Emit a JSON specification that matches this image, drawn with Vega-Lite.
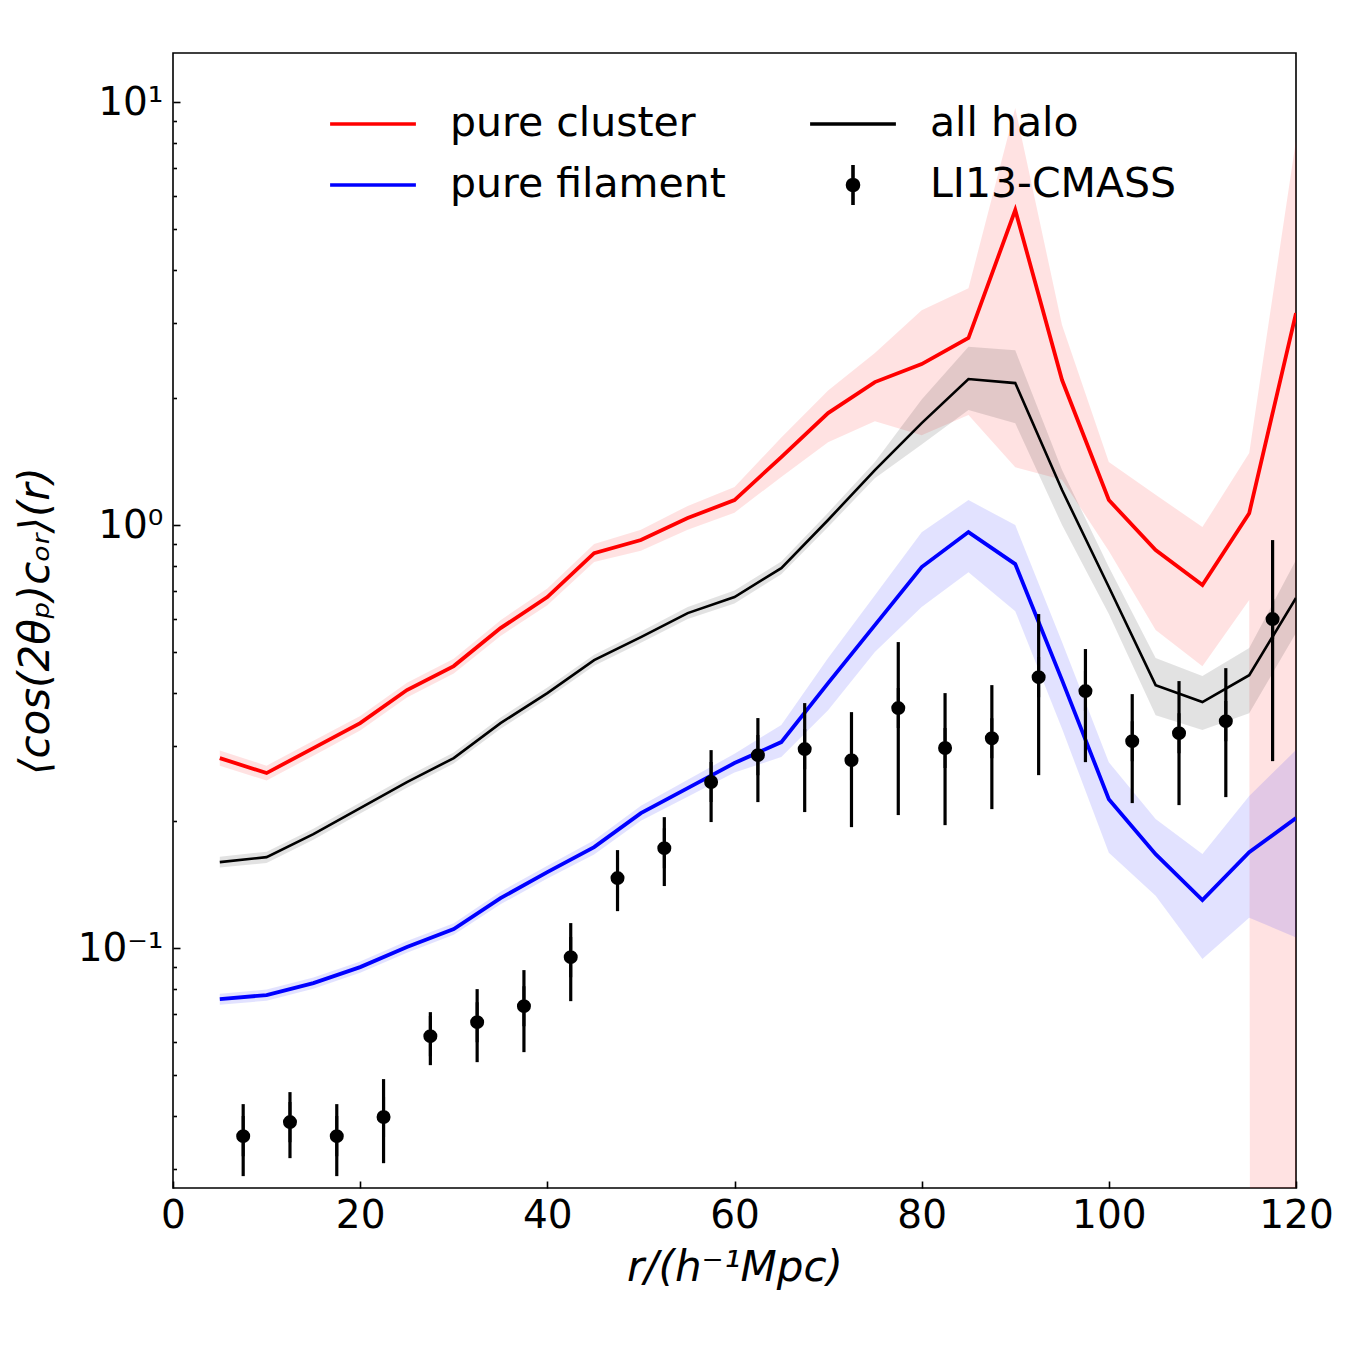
{
  "$schema": "https://vega.github.io/schema/vega-lite/v6.json",
  "width": 1123,
  "height": 1135,
  "autosize": {"type": "none"},
  "padding": {"left": 173, "top": 53, "right": 54, "bottom": 162},
  "background": "white",
  "config": {
    "view": {"stroke": "#000000", "strokeWidth": 1.6},
    "font": "DejaVu Sans",
    "axis": {"domain": false, "grid": false, "labelFont": "DejaVu Sans", "titleFont": "DejaVu Sans", "labelColor": "#000000", "titleColor": "#000000", "tickColor": "#000000", "tickWidth": 1.6, "labelFontSize": 39, "titleFontSize": 42, "titleFontWeight": "normal", "titleFontStyle": "italic"}
  },
  "datasets": {
    "curves": [
      {"x": 5, "series": "pure cluster", "y": 0.2813, "lo": 0.270, "hi": 0.293},
      {"x": 10, "series": "pure cluster", "y": 0.2593, "lo": 0.249, "hi": 0.270},
      {"x": 15, "series": "pure cluster", "y": 0.2971, "lo": 0.285, "hi": 0.309},
      {"x": 20, "series": "pure cluster", "y": 0.3403, "lo": 0.327, "hi": 0.354},
      {"x": 25, "series": "pure cluster", "y": 0.4074, "lo": 0.391, "hi": 0.424},
      {"x": 30, "series": "pure cluster", "y": 0.4642, "lo": 0.446, "hi": 0.483},
      {"x": 35, "series": "pure cluster", "y": 0.5707, "lo": 0.547, "hi": 0.596},
      {"x": 40, "series": "pure cluster", "y": 0.6760, "lo": 0.646, "hi": 0.708},
      {"x": 45, "series": "pure cluster", "y": 0.8586, "lo": 0.818, "hi": 0.902},
      {"x": 50, "series": "pure cluster", "y": 0.9216, "lo": 0.870, "hi": 0.975},
      {"x": 55, "series": "pure cluster", "y": 1.039, "lo": 0.975, "hi": 1.11},
      {"x": 60, "series": "pure cluster", "y": 1.146, "lo": 1.07, "hi": 1.23},
      {"x": 65, "series": "pure cluster", "y": 1.448, "lo": 1.30, "hi": 1.61},
      {"x": 70, "series": "pure cluster", "y": 1.840, "lo": 1.57, "hi": 2.08},
      {"x": 75, "series": "pure cluster", "y": 2.178, "lo": 1.76, "hi": 2.55},
      {"x": 80, "series": "pure cluster", "y": 2.402, "lo": 1.63, "hi": 3.22},
      {"x": 85, "series": "pure cluster", "y": 2.768, "lo": 1.82, "hi": 3.63},
      {"x": 90, "series": "pure cluster", "y": 5.556, "lo": 1.37, "hi": 9.68},
      {"x": 95, "series": "pure cluster", "y": 2.202, "lo": 1.28, "hi": 2.97},
      {"x": 100, "series": "pure cluster", "y": 1.146, "lo": 0.868, "hi": 1.41},
      {"x": 105, "series": "pure cluster", "y": 0.8727, "lo": 0.565, "hi": 1.18},
      {"x": 110, "series": "pure cluster", "y": 0.7214, "lo": 0.464, "hi": 0.989},
      {"x": 115, "series": "pure cluster", "y": 1.067, "lo": 0.665, "hi": 1.48},
      {"x": 120, "series": "pure cluster", "y": 3.171, "lo": 1e-100, "hi": 8.13},
      {"x": 5, "series": "all halo", "y": 0.1597, "lo": 0.155, "hi": 0.1645},
      {"x": 10, "series": "all halo", "y": 0.1641, "lo": 0.159, "hi": 0.169},
      {"x": 15, "series": "all halo", "y": 0.1860, "lo": 0.1805, "hi": 0.1915},
      {"x": 20, "series": "all halo", "y": 0.2143, "lo": 0.208, "hi": 0.221},
      {"x": 25, "series": "all halo", "y": 0.2469, "lo": 0.2395, "hi": 0.2545},
      {"x": 30, "series": "all halo", "y": 0.2813, "lo": 0.273, "hi": 0.290},
      {"x": 35, "series": "all halo", "y": 0.3403, "lo": 0.330, "hi": 0.351},
      {"x": 40, "series": "all halo", "y": 0.4007, "lo": 0.389, "hi": 0.413},
      {"x": 45, "series": "all halo", "y": 0.4796, "lo": 0.465, "hi": 0.494},
      {"x": 50, "series": "all halo", "y": 0.5436, "lo": 0.527, "hi": 0.560},
      {"x": 55, "series": "all halo", "y": 0.6194, "lo": 0.600, "hi": 0.640},
      {"x": 60, "series": "all halo", "y": 0.6760, "lo": 0.653, "hi": 0.700},
      {"x": 65, "series": "all halo", "y": 0.7912, "lo": 0.765, "hi": 0.820},
      {"x": 70, "series": "all halo", "y": 1.028, "lo": 0.99, "hi": 1.07},
      {"x": 75, "series": "all halo", "y": 1.349, "lo": 1.29, "hi": 1.41},
      {"x": 80, "series": "all halo", "y": 1.742, "lo": 1.55, "hi": 1.98},
      {"x": 85, "series": "all halo", "y": 2.214, "lo": 1.87, "hi": 2.64},
      {"x": 90, "series": "all halo", "y": 2.166, "lo": 1.74, "hi": 2.59},
      {"x": 95, "series": "all halo", "y": 1.210, "lo": 1.00, "hi": 1.35},
      {"x": 100, "series": "all halo", "y": 0.7137, "lo": 0.616, "hi": 0.796},
      {"x": 105, "series": "all halo", "y": 0.4185, "lo": 0.355, "hi": 0.485},
      {"x": 110, "series": "all halo", "y": 0.3816, "lo": 0.328, "hi": 0.440},
      {"x": 115, "series": "all halo", "y": 0.4418, "lo": 0.359, "hi": 0.512},
      {"x": 120, "series": "all halo", "y": 0.6723, "lo": 0.556, "hi": 0.827},
      {"x": 5, "series": "pure filament", "y": 0.07575, "lo": 0.0735, "hi": 0.0780},
      {"x": 10, "series": "pure filament", "y": 0.07743, "lo": 0.0751, "hi": 0.0798},
      {"x": 15, "series": "pure filament", "y": 0.08268, "lo": 0.0802, "hi": 0.0852},
      {"x": 20, "series": "pure filament", "y": 0.09018, "lo": 0.0875, "hi": 0.0930},
      {"x": 25, "series": "pure filament", "y": 0.1006, "lo": 0.0975, "hi": 0.1040},
      {"x": 30, "series": "pure filament", "y": 0.1109, "lo": 0.1075, "hi": 0.1145},
      {"x": 35, "series": "pure filament", "y": 0.1313, "lo": 0.1270, "hi": 0.1360},
      {"x": 40, "series": "pure filament", "y": 0.1512, "lo": 0.1460, "hi": 0.1565},
      {"x": 45, "series": "pure filament", "y": 0.1733, "lo": 0.1665, "hi": 0.1800},
      {"x": 50, "series": "pure filament", "y": 0.2085, "lo": 0.2000, "hi": 0.2170},
      {"x": 55, "series": "pure filament", "y": 0.2389, "lo": 0.2280, "hi": 0.2500},
      {"x": 60, "series": "pure filament", "y": 0.2738, "lo": 0.2600, "hi": 0.2880},
      {"x": 65, "series": "pure filament", "y": 0.3069, "lo": 0.283, "hi": 0.337},
      {"x": 70, "series": "pure filament", "y": 0.4231, "lo": 0.365, "hi": 0.485},
      {"x": 75, "series": "pure filament", "y": 0.5802, "lo": 0.501, "hi": 0.683},
      {"x": 80, "series": "pure filament", "y": 0.7957, "lo": 0.640, "hi": 0.962},
      {"x": 85, "series": "pure filament", "y": 0.9627, "lo": 0.774, "hi": 1.146},
      {"x": 90, "series": "pure filament", "y": 0.8088, "lo": 0.626, "hi": 1.00},
      {"x": 95, "series": "pure filament", "y": 0.4301, "lo": 0.330, "hi": 0.529},
      {"x": 100, "series": "pure filament", "y": 0.2250, "lo": 0.168, "hi": 0.275},
      {"x": 105, "series": "pure filament", "y": 0.1668, "lo": 0.133, "hi": 0.202},
      {"x": 110, "series": "pure filament", "y": 0.1299, "lo": 0.0942, "hi": 0.167},
      {"x": 115, "series": "pure filament", "y": 0.1686, "lo": 0.118, "hi": 0.229},
      {"x": 120, "series": "pure filament", "y": 0.2029, "lo": 0.106, "hi": 0.294}
    ],
    "obs": [
      {"x": 7.5, "series": "LI13-CMASS", "y": 0.03594, "lo": 0.02891, "hi": 0.04278},
      {"x": 12.5, "series": "LI13-CMASS", "y": 0.03879, "lo": 0.03188, "hi": 0.04567},
      {"x": 17.5, "series": "LI13-CMASS", "y": 0.03594, "lo": 0.02891, "hi": 0.04278},
      {"x": 22.5, "series": "LI13-CMASS", "y": 0.03987, "lo": 0.03102, "hi": 0.04902},
      {"x": 27.5, "series": "LI13-CMASS", "y": 0.06194, "lo": 0.05289, "hi": 0.07058},
      {"x": 32.5, "series": "LI13-CMASS", "y": 0.06683, "lo": 0.05376, "hi": 0.08000},
      {"x": 37.5, "series": "LI13-CMASS", "y": 0.07292, "lo": 0.05677, "hi": 0.08872},
      {"x": 42.5, "series": "LI13-CMASS", "y": 0.09521, "lo": 0.07493, "hi": 0.1146},
      {"x": 47.5, "series": "LI13-CMASS", "y": 0.1464, "lo": 0.1223, "hi": 0.1705},
      {"x": 52.5, "series": "LI13-CMASS", "y": 0.1723, "lo": 0.1402, "hi": 0.2040},
      {"x": 57.5, "series": "LI13-CMASS", "y": 0.2469, "lo": 0.1986, "hi": 0.2938},
      {"x": 62.5, "series": "LI13-CMASS", "y": 0.2859, "lo": 0.2214, "hi": 0.3498},
      {"x": 67.5, "series": "LI13-CMASS", "y": 0.2954, "lo": 0.2097, "hi": 0.3795},
      {"x": 72.5, "series": "LI13-CMASS", "y": 0.2782, "lo": 0.1932, "hi": 0.3613},
      {"x": 77.5, "series": "LI13-CMASS", "y": 0.3693, "lo": 0.2063, "hi": 0.5290},
      {"x": 82.5, "series": "LI13-CMASS", "y": 0.2971, "lo": 0.1953, "hi": 0.4007},
      {"x": 87.5, "series": "LI13-CMASS", "y": 0.3135, "lo": 0.2131, "hi": 0.4185},
      {"x": 92.5, "series": "LI13-CMASS", "y": 0.4371, "lo": 0.2564, "hi": 0.6161},
      {"x": 97.5, "series": "LI13-CMASS", "y": 0.4051, "lo": 0.2752, "hi": 0.5093},
      {"x": 102.5, "series": "LI13-CMASS", "y": 0.3085, "lo": 0.2202, "hi": 0.3985},
      {"x": 107.5, "series": "LI13-CMASS", "y": 0.3222, "lo": 0.2178, "hi": 0.4278},
      {"x": 112.5, "series": "LI13-CMASS", "y": 0.3440, "lo": 0.2275, "hi": 0.4590},
      {"x": 117.5, "series": "LI13-CMASS", "y": 0.5995, "lo": 0.2767, "hi": 0.9216}
    ]
  },
  "encoding": {
    "x": {
      "field": "x", "type": "quantitative",
      "scale": {"domain": [0, 120], "nice": false, "zero": false},
      "axis": {"title": "r/(h⁻¹Mpc)", "values": [0, 20, 40, 60, 80, 100, 120], "tickSize": -7, "labelPadding": 15, "titlePadding": 12, "labelFlush": false}
    },
    "y": {
      "field": "y", "type": "quantitative",
      "scale": {"type": "log", "domain": [0.0271, 13.06], "nice": false},
      "axis": {
        "title": "⟨cos(2θₚ)ᴄₒᵣ⟩(r)",
        "values": [0.03, 0.04, 0.05, 0.06, 0.07, 0.08, 0.09, 0.1, 0.2, 0.3, 0.4, 0.5, 0.6, 0.7, 0.8, 0.9, 1, 2, 3, 4, 5, 6, 7, 8, 9, 10],
        "labelExpr": "datum.value === 10 ? '10¹' : (datum.value === 1 ? '10⁰' : (datum.value === 0.1 ? '10⁻¹' : ''))",
        "tickSize": {"condition": {"test": "datum.value === 0.1 || datum.value === 1 || datum.value === 10", "value": -7}, "value": -3.5},
        "labelPadding": 17,
        "titlePadding": 20,
        "labelFlush": false,
        "labelOverlap": false
      }
    }
  },
  "layer": [
    {
      "data": {"name": "curves"},
      "mark": {"type": "area", "fillOpacity": 0.115, "clip": true, "interpolate": "linear"},
      "encoding": {
        "y": {"field": "hi", "type": "quantitative"},
        "y2": {"field": "lo"},
        "fill": {
          "field": "series", "type": "nominal",
          "scale": {"domain": ["pure cluster", "pure filament", "all halo", "LI13-CMASS"], "range": ["#ff0000", "#0000ff", "#000000", "#000000"]}
        }
      }
    },
    {
      "data": {"name": "curves"},
      "transform": [{"filter": "datum.series !== 'all halo'"}],
      "mark": {"type": "line", "strokeWidth": 3.8, "clip": true},
      "encoding": {
        "stroke": {
          "field": "series", "type": "nominal",
          "scale": {"domain": ["pure cluster", "pure filament", "all halo", "LI13-CMASS"], "range": ["#ff0000", "#0000ff", "#000000", "#000000"]},
          "legend": {
            "orient": "none", "legendX": 176, "legendY": 47, "columns": 2, "title": null,
            "symbolSize": 1936, "symbolStrokeWidth": 3.6, "symbolOpacity": 1,
            "labelFont": "DejaVu Sans", "labelFontSize": 41, "labelColor": "#000000", "labelOffset": 53, "labelLimit": 0,
            "rowPadding": 13, "columnPadding": 76, "padding": 0
          }
        }
      }
    },
    {
      "data": {"name": "curves"},
      "transform": [{"filter": "datum.series === 'all halo'"}],
      "mark": {"type": "line", "strokeWidth": 2.6, "clip": true},
      "encoding": {
        "stroke": {
          "field": "series", "type": "nominal",
          "scale": {"domain": ["pure cluster", "pure filament", "all halo", "LI13-CMASS"], "range": ["#ff0000", "#0000ff", "#000000", "#000000"]}
        }
      }
    },
    {
      "data": {"name": "obs"},
      "mark": {"type": "rule", "strokeWidth": 3.2, "color": "#000000"},
      "encoding": {
        "y": {"field": "lo", "type": "quantitative"},
        "y2": {"field": "hi"}
      }
    },
    {
      "data": {"name": "obs"},
      "mark": {"type": "point", "filled": true, "size": 1936, "opacity": 1, "color": "#000000", "fill": "#000000", "stroke": "#000000", "strokeWidth": 3},
      "encoding": {
        "shape": {
          "field": "series", "type": "nominal",
          "scale": {"domain": ["pure cluster", "pure filament", "all halo", "LI13-CMASS"], "range": ["M-1.95,0L1.95,0", "M-1.95,0L1.95,0", "M-1.95,0L1.95,0", "M0,-0.91L0,0.91M0.25,0A0.25,0.25,0,1,1,-0.25,0A0.25,0.25,0,1,1,0.25,0Z"]}
        }
      }
    }
  ]
}
